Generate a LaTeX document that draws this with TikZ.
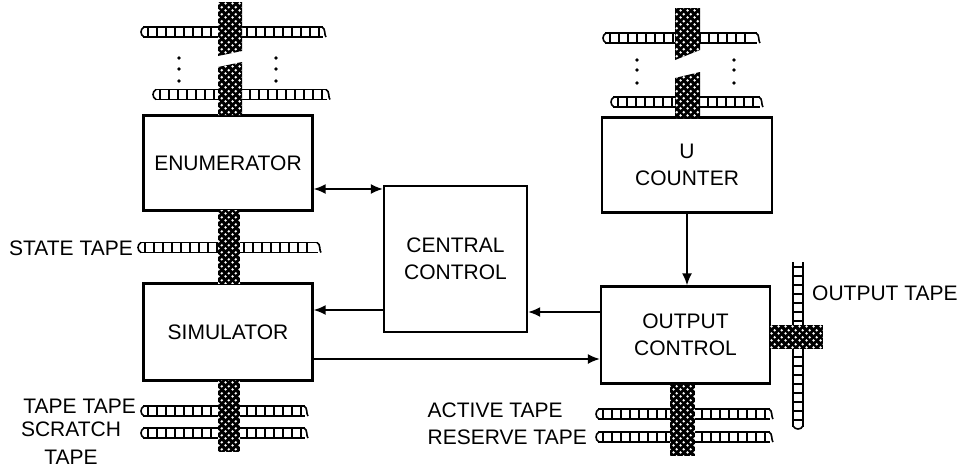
\documentclass[tikz,border=0pt]{standalone}
\usepackage{fontspec}
\setmainfont{Liberation Sans}
\usetikzlibrary{arrows.meta,patterns}
\pgfdeclarepatternformonly{tapedots}{\pgfpoint{0pt}{0pt}}{\pgfpoint{7pt}{7pt}}{\pgfpoint{7pt}{7pt}}{%
  \pgfpathcircle{\pgfpoint{1.75pt}{1.75pt}}{1.5pt}%
  \pgfpathcircle{\pgfpoint{5.25pt}{5.25pt}}{1.5pt}%
  \pgfusepath{fill}}
\tikzset{>={Latex[length=12pt,width=10pt]}}
\tikzset{unit/.style={draw,line width=2.4pt,inner sep=0pt,align=center,font=\fontsize{21}{27}\selectfont},
         link/.style={line width=1.6pt},
         tapeline/.style={line width=1.6pt},
         hub/.style={fill=black,postaction={pattern=tapedots,pattern color=white}},
         lbl/.style={inner sep=0pt,align=center,font=\fontsize{21}{28}\selectfont}}
% horizontal tape: left x, right x, middle y
\newcommand{\htape}[3]{%
  \draw[tapeline] (#1,#3-5) -- (#2,#3-5) (#1,#3+5) -- (#2,#3+5);
  \draw[tapeline] (#1+1,#3-5) .. controls (#1-3,#3-3) and (#1-3,#3+3) .. (#1+1,#3+5);
  \draw[tapeline] (#2-1,#3-5) .. controls (#2+3,#3-3) and (#2+1,#3+3) .. (#2+3,#3+5);
  \pgfmathtruncatemacro\ncell{(#2-#1)/9}
  \foreach \i in {1,...,\ncell} \draw[tapeline] (#1+\i*9-4,#3-5) -- (#1+\i*9-4,#3+5);
}
% vertical tape: middle x, top y, bottom y
\newcommand{\vtape}[3]{%
  \draw[tapeline] (#1-5,#2) -- (#1-5,#3) (#1+5,#2) -- (#1+5,#3);
  \draw[tapeline] (#1-5,#3-1) .. controls (#1-3,#3+3) and (#1+3,#3+3) .. (#1+5,#3-1);
  \pgfmathtruncatemacro\ncell{(#3-#2)/9}
  \foreach \i in {1,...,\ncell} \draw[tapeline] (#1-5,#2+\i*9-4) -- (#1+5,#2+\i*9-4);
}
\begin{document}
\begin{tikzpicture}[x=1pt,y=-1pt]
\useasboundingbox (0,0) rectangle (957,474);

% units
\node[unit,minimum width=169pt,minimum height=95pt] (enum) at (228,163) {ENUMERATOR};
\node[unit,minimum width=169pt,minimum height=97pt] (sim) at (228,332) {SIMULATOR};
\node[unit,minimum width=143pt,minimum height=146pt] (central) at (455.5,259) {CENTRAL\\CONTROL};
\node[unit,minimum width=170pt,minimum height=95pt] (ucount) at (687,165) {U\\COUNTER};
\node[unit,minimum width=169pt,minimum height=97pt] (outctl) at (685.5,335) {OUTPUT\\CONTROL};

% connections
\draw[link,<->] (enum.east |- 0,189) -- (central.west |- 0,189);
\draw[link,->] (central.west |- 0,310) -- (sim.east |- 0,310);
\draw[link,->] (outctl.west |- 0,312) -- (central.east |- 0,312);
\draw[link,->] (sim.east |- 0,359) -- (outctl.west |- 0,359);
\draw[link,->] (ucount.south) -- (ucount.south |- outctl.north);

% tapes of the enumerator
\htape{143}{323}{32}
\htape{155}{327}{94.5}
\fill[hub] (218,2) -- (242,2) -- (242,51) -- (218,56) -- cycle;
\fill[hub] (218,67) -- (242,62) -- (242,115) -- (218,115) -- cycle;
\foreach \dy in {58,69,81} \fill (179,\dy) circle (1.8pt) (276,\dy) circle (1.8pt);

% tapes of the u counter
\htape{605}{757}{38}
\htape{613}{760}{102}
\fill[hub] (675,8) -- (700,8) -- (700,50) -- (675,60) -- cycle;
\fill[hub] (675,78) -- (700,72) -- (700,118) -- (675,118) -- cycle;
\foreach \dy in {60,70,83} \fill (637,\dy) circle (1.8pt) (734,\dy) circle (1.8pt);

% state tape
\htape{140}{318}{247.5}
\fill[hub] (218,210) rectangle (240,283);

% tape tape and scratch tape
\htape{143}{305}{411}
\htape{143}{305}{433}
\fill[hub] (218,380) rectangle (240,452);

% active and reserve tape
\htape{598}{770}{414}
\htape{598}{770}{437}
\fill[hub] (670,384) rectangle (695,456);

% output tape
\vtape{798}{262}{427}
\fill[hub] (770,325) rectangle (823,349);

% labels
\node[lbl,anchor=east] (statelbl) at (133,248) {STATE TAPE};
\node[lbl,anchor=east] (tapelbl) at (136,406) {TAPE TAPE};
\node[lbl] (scratchlbl) at (71,443) {SCRATCH\\TAPE};
\node[lbl,anchor=east] (reservelbl) at (587,437) {RESERVE TAPE};
\node[lbl,anchor=west] (activelbl) at (reservelbl.west |- 0,410) {ACTIVE TAPE};
\node[lbl,anchor=west] (outputlbl) at (812,293) {OUTPUT TAPE};
\end{tikzpicture}
\end{document}
